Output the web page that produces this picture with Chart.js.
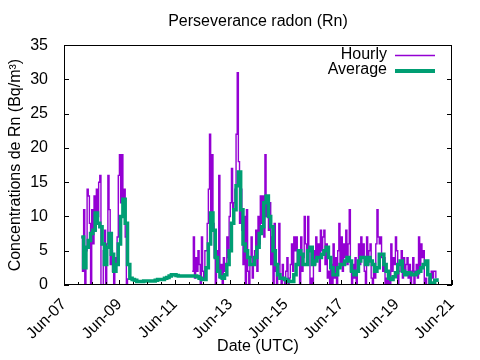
<!DOCTYPE html>
<html>
<head>
<meta charset="utf-8">
<script src="https://cdn.jsdelivr.net/npm/chart.js@4/dist/chart.umd.min.js"></script>
<style>
  html, body { margin: 0; padding: 0; background: #fff; }
  #wrap { width: 480px; height: 360px; }
</style>
</head>
<body>
<div id="wrap"><canvas id="radonChart" width="480" height="360"></canvas></div>
<script>
// Time axis is in days of June (7.0 = Jun-07 00:00 UTC)
const xTickStart = 7;
const xTickEnd = 21;
const xTickStep = 2;
const yTicks = [0, 5, 10, 15, 20, 25, 30, 35];

// Hourly readings, first block (starts Jun-07 15:00)
const hourlyStartA = 7.625;
const hourlyA = [7, 2, 11, 0, 5, 14, 13, 9, 0, 11, 6, 13, 8, 14, 10, 15, 16, 0,
    0, 5, 8, 0, 6, 16, 11, 3, 5, 2, 0, 4, 3, 7, 16, 19, 12, 19, 12, 14, 7, 0, 1];

// Hourly readings, second block (starts Jun-11 15:00)
const hourlyStartB = 11.625;
const hourlyB = [
    2, 7, 1, 4, 2, 5, 3, 0, 7, 2, 1, 5, 5, 9, 14, 22, 10, 19, 9, 4, 0, 5, 2, 16,
    1, 3, 0, 4, 2, 3, 7, 4, 10, 12, 17, 11, 12, 14, 22, 31, 18, 9, 14, 8, 3, 10, 0, 11,
    2, 0, 4, 7, 1, 3, 5, 8, 2, 10, 6, 13, 9, 13, 7, 19, 10, 12, 8, 12, 3, 7, 0, 9,
    2, 0, 3, 9, 1, 0, 3, 1, 0, 2, 4, 0, 1, 3, 6, 2, 7, 5, 7, 3, 5, 0, 7, 2,
    4, 10, 6, 3, 10, 5, 0, 1, 0, 5, 3, 7, 4, 6, 2, 8, 5, 7, 8, 3, 6, 1, 2, 0,
    3, 0, 6, 1, 4, 0, 5, 9, 3, 7, 2, 6, 4, 8, 3, 6, 11, 2, 0, 3, 1, 4, 0, 2,
    6, 3, 7, 4, 6, 2, 0, 7, 3, 5, 6, 1, 0, 3, 1, 6, 11, 7, 6, 7, 4, 2, 4, 0,
    1, 0, 2, 0, 6, 2, 4, 3, 7, 5, 0, 2, 3, 5, 1, 4, 2, 3, 4, 1, 3, 0, 2, 4,
    0, 2, 3, 1, 7, 2, 6, 4, 5, 0, 1, 0, 0, 1, 0, 2, 1, 2, 2, 1];

// Running average, one value every 2 hours (starts Jun-07 15:00)
const avgStart = 7.625;
const avgStepHours = 2;
const average = [
    7, 2.5, 5.5, 6.5, 7.5, 8, 10.5, 9, 8.5, 6, 3, 5.5,
    7.5, 4.5, 2, 3, 6, 10, 12.5, 9, 3, 1, 0.8, 0.7,
    0.5, 0.5, 0.5, 0.6, 0.6, 0.6, 0.6, 0.6, 0.7, 0.8, 0.8, 0.8,
    1.0, 1.1, 1.3, 1.5, 1.5, 1.4, 1.3, 1.3, 1.3, 1.3, 1.3, 1.3,
    1.3, 1.3, 1.2, 1.0, 0.8, 0.8, 2.5, 6, 10.5, 8, 4, 2,
    1.2, 1.0, 1.5, 3, 5, 9, 11, 14.5, 16.5, 11, 6, 5,
    4, 3, 3, 4, 5.5, 7.5, 8.5, 12, 13, 10, 8.5, 5,
    3, 1.5, 1, 1, 0.8, 0.6, 0.5, 0.5, 1.5, 3, 5, 4.5,
    3, 3, 5, 5.5, 3, 3.5, 4, 4, 4.5, 5, 5.5, 4,
    2.5, 1.5, 1.5, 2.5, 3, 3, 3.5, 4, 3.5, 2, 1.5, 2,
    3.5, 4, 4, 3, 4, 3.5, 3, 2, 2.5, 4.5, 4.5, 3,
    2, 1, 0.8, 1.2, 1.8, 3, 3.5, 2, 1.5, 1.8, 1.7, 1.5,
    1.5, 1.8, 2, 2.5, 3, 3.5, 1.5, 0.2, 0.3, 0.7, 1];

const HOURLY_COLOR = '#9400d3';
const AVG_COLOR = '#009e73';
const FONT = '"Liberation Sans", Arial, sans-serif';

Chart.defaults.font.family = FONT;
Chart.defaults.color = '#000';

// Build point lists (a null between the two hourly blocks leaves the gap)
const hourlyPoints = [
    ...hourlyA.map((v, i) => ({ x: hourlyStartA + i / 24, y: v })),
    { x: hourlyStartB - 1 / 24, y: null },
    ...hourlyB.map((v, i) => ({ x: hourlyStartB + i / 24, y: v }))
];
const avgPoints = average.map((v, i) => ({ x: avgStart + i * avgStepHours / 24, y: v }));

function dayLabel(v) {
    return 'Jun-' + String(v).padStart(2, '0');
}

// gnuplot-like frame: box border, inward ticks, minor x ticks
const frameTicks = {
    id: 'frameTicks',
    afterDatasetsDraw(chart) {
        const { ctx, chartArea: a, scales: { x, y } } = chart;
        ctx.save();
        ctx.strokeStyle = '#000';
        ctx.lineWidth = 1;
        ctx.beginPath();
        y.ticks.forEach(t => {
            const py = Math.round(y.getPixelForValue(t.value)) + 0.5;
            ctx.moveTo(a.left, py); ctx.lineTo(a.left + 5, py);
            ctx.moveTo(a.right, py); ctx.lineTo(a.right - 5, py);
        });
        x.ticks.forEach(t => {
            const px = Math.round(x.getPixelForValue(t.value)) + 0.5;
            ctx.moveTo(px, a.bottom); ctx.lineTo(px, a.bottom - 5);
            for (let m = 0.5; m < xTickStep; m += 0.5) {
                if (t.value + m > x.max) break;
                const mx = Math.round(x.getPixelForValue(t.value + m)) + 0.5;
                ctx.moveTo(mx, a.bottom); ctx.lineTo(mx, a.bottom - 3);
            }
        });
        ctx.stroke();
        ctx.strokeRect(Math.round(a.left) + 0.5, Math.round(a.top) + 0.5,
            Math.round(a.right - a.left) - 1, Math.round(a.bottom - a.top) - 1);
        ctx.restore();
    }
};

// Legend inside the plot, text left of the sample line
const keyLegend = {
    id: 'keyLegend',
    afterDatasetsDraw(chart) {
        const { ctx } = chart;
        const rows = [
            { ds: chart.data.datasets[1], y: 55.5, w: 1.5 },
            { ds: chart.data.datasets[0], y: 71, w: 4 }
        ];
        ctx.save();
        ctx.font = '16px ' + FONT;
        ctx.fillStyle = '#000';
        ctx.textAlign = 'right';
        ctx.textBaseline = 'middle';
        rows.forEach(r => {
            ctx.fillText(r.ds.label, 387, Math.round(r.y) - 1);
            ctx.strokeStyle = r.ds.borderColor;
            ctx.lineWidth = r.w;
            ctx.beginPath();
            ctx.moveTo(395, r.y);
            ctx.lineTo(435, r.y);
            ctx.stroke();
        });
        ctx.restore();
    }
};

new Chart(document.getElementById('radonChart'), {
    type: 'line',
    data: {
        datasets: [
            {
                label: 'Average',
                data: avgPoints,
                borderColor: AVG_COLOR,
                borderWidth: 3.5,
                stepped: true,
                pointRadius: 0,
                fill: false,
                order: 1
            },
            {
                label: 'Hourly',
                data: hourlyPoints,
                borderColor: HOURLY_COLOR,
                borderWidth: 1.4,
                stepped: true,
                spanGaps: false,
                pointRadius: 0,
                fill: false,
                order: 2
            }
        ]
    },
    options: {
        responsive: false,
        animation: false,
        layout: { padding: { left: 0, right: 28, top: 0, bottom: 0 } },
        plugins: {
            legend: { display: false },
            tooltip: { enabled: false },
            title: {
                display: true,
                fullSize: false,
                text: 'Perseverance radon (Rn)',
                font: { size: 16, weight: 'normal' },
                color: '#000',
                padding: { top: 12, bottom: 14 }
            }
        },
        scales: {
            x: {
                type: 'linear',
                min: xTickStart,
                max: xTickEnd,
                grid: { display: false },
                border: { display: false },
                ticks: {
                    stepSize: xTickStep,
                    autoSkip: false,
                    minRotation: 45,
                    maxRotation: 45,
                    padding: 2,
                    font: { size: 16 },
                    color: '#000',
                    callback: v => dayLabel(v)
                },
                title: {
                    display: true,
                    text: 'Date (UTC)',
                    font: { size: 16 },
                    color: '#000',
                    padding: { top: 0, bottom: 4 }
                },
                afterFit(scale) { scale.height = 75; }
            },
            y: {
                min: yTicks[0],
                max: yTicks[yTicks.length - 1],
                grid: { display: false },
                border: { display: false },
                afterBuildTicks(scale) { scale.ticks = yTicks.map(v => ({ value: v })); },
                ticks: {
                    padding: 8,
                    font: { size: 16 },
                    color: '#000'
                },
                title: {
                    display: true,
                    text: 'Concentrations de Rn (Bq/m³)',
                    font: { size: 16 },
                    color: '#000',
                    padding: { top: 6, bottom: 0 }
                },
                afterFit(scale) { scale.width = 64; }
            }
        }
    },
    plugins: [frameTicks, keyLegend]
});
</script>
</body>
</html>
